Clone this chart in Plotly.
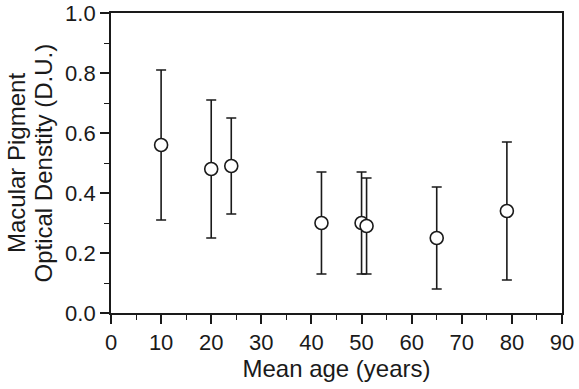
import plotly.graph_objects as go

ages = [10, 20, 24, 42, 50, 51, 65, 79]
mpod = [0.56, 0.48, 0.49, 0.30, 0.30, 0.29, 0.25, 0.34]
upper = [0.81, 0.71, 0.65, 0.47, 0.47, 0.45, 0.42, 0.57]
lower = [0.31, 0.25, 0.33, 0.13, 0.13, 0.13, 0.08, 0.11]
ytitle_lines = ["Macular Pigment", "Optical Denstity (D.U.)"]
xtitle = "Mean age (years)"

err_plus = [u - m for u, m in zip(upper, mpod)]
err_minus = [m - l for m, l in zip(mpod, lower)]

ink = "#1a1a1a"
font = "Liberation Sans, Arial, sans-serif"

W, H = 579, 389
ML, MR, MT, MB = 111, 17, 13, 76
PW, PH = W - ML - MR, H - MT - MB

fig = go.Figure(go.Scatter(
    x=ages, y=mpod, mode="markers",
    marker=dict(symbol="circle", size=13, color="white", line=dict(color=ink, width=1.6)),
    error_y=dict(type="data", symmetric=False, array=err_plus, arrayminus=err_minus,
                 color=ink, thickness=1.6, width=5),
    showlegend=False,
))

axis_common = dict(
    automargin=False,
    showgrid=False, zeroline=False, showline=True, linecolor=ink, linewidth=1.8,
    mirror=True, ticks="outside", ticklen=9, tickwidth=1.6, tickcolor=ink,
    tickfont=dict(family=font, size=22, color=ink),
)

fig.update_xaxes(
    range=[0, 90], tick0=0, dtick=10,
    minor=dict(ticks="outside", ticklen=5, tickwidth=1.4, tickcolor=ink, dtick=5),
    title=dict(text=xtitle, font=dict(family=font, size=24, color=ink), standoff=6),
    **axis_common,
)
fig.update_yaxes(
    range=[0, 1.0], tick0=0, dtick=0.2, tickformat=".1f",
    minor=dict(ticks="outside", ticklen=5, tickwidth=1.4, tickcolor=ink, dtick=0.1),
    **axis_common,
)

# two-line y title as rotated annotations (tighter line spacing than axis title)
for line_text, px_center in zip(ytitle_lines, [16, 42.5]):
    fig.add_annotation(
        text=line_text, textangle=-90, showarrow=False,
        xref="paper", yref="paper", x=(px_center - ML) / PW, y=0.5,
        xanchor="center", yanchor="middle",
        font=dict(family=font, size=24, color=ink),
    )

fig.update_layout(
    width=W, height=H,
    margin=dict(l=ML, r=MR, t=MT, b=MB),
    paper_bgcolor="white", plot_bgcolor="white",
)

fig.write_html("out.html", config={"displayModeBar": False},
               post_script="document.body.style.margin='0px';")
